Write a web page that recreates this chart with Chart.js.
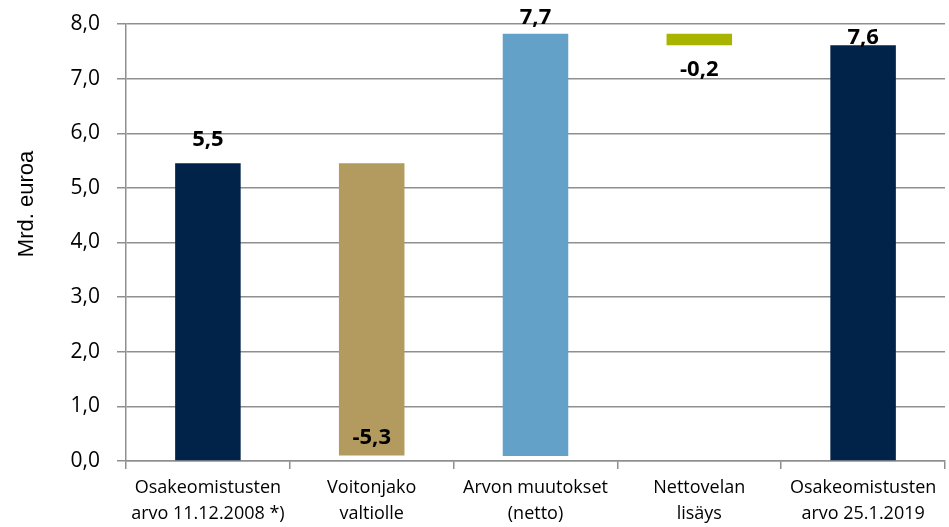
<!DOCTYPE html>
<html>
<head>
<meta charset="utf-8">
<script src="https://cdn.jsdelivr.net/npm/chart.js@4"></script>
<style>
  html, body { margin: 0; padding: 0; background: #fff; }
  #wrap { width: 949px; height: 527px; }
</style>
</head>
<body>
<div id="wrap"><canvas id="chart" width="949" height="527"></canvas></div>
<script>
// kategoriat ja arvot (mrd. euroa)
const categories = [
  ['Osakeomistusten', 'arvo 11.12.2008 *)'],
  ['Voitonjako', 'valtiolle'],
  ['Arvon muutokset', '(netto)'],
  ['Nettovelan', 'lisäys'],
  ['Osakeomistusten', 'arvo 25.1.2019']
];
const barLow = [0, 0.10, 0.09, 7.61, 0];
const barHigh = [5.45, 5.45, 7.82, 7.82, 7.61];
const valueLabels = ['5,5', '-5,3', '7,7', '-0,2', '7,6'];
const yTicks = [0, 1, 2, 3, 4, 5, 6, 7, 8];

const barColors = ['#012249', '#B39A5F', '#64A1C9', '#A9B400', '#012249'];
// where each value label sits: above the bar, inside at bottom, below the bar
const labelMode = ['above', 'insideBottom', 'above', 'below', 'above'];
const labelGap = [24, 18, 16, 24, 8];

const gridColor = '#8F8F8F';

const valueLabelPlugin = {
  id: 'valueLabels',
  afterDatasetsDraw(chart) {
    const ctx = chart.ctx;
    const meta = chart.getDatasetMeta(0);
    ctx.save();
    ctx.font = 'bold 22px "Open Sans"';
    ctx.fillStyle = '#000';
    ctx.textAlign = 'center';
    ctx.textBaseline = 'middle';
    meta.data.forEach((bar, i) => {
      const top = Math.min(bar.y, bar.base);
      const bottom = Math.max(bar.y, bar.base);
      let y;
      if (labelMode[i] === 'above') y = top - labelGap[i];
      else if (labelMode[i] === 'below') y = bottom + labelGap[i];
      else y = bottom - labelGap[i];
      ctx.fillText(valueLabels[i], bar.x, y);
    });
    ctx.restore();
  }
};

// y-akselin otsikko piirretään itse, koska se ei ole keskellä
const yTitlePlugin = {
  id: 'yTitle',
  afterDraw(chart) {
    const ctx = chart.ctx;
    ctx.save();
    ctx.translate(27, 204);
    ctx.rotate(-Math.PI / 2);
    ctx.font = '22px "Liberation Sans"';
    ctx.fillStyle = '#000';
    ctx.textAlign = 'center';
    ctx.textBaseline = 'middle';
    ctx.fillText('Mrd. euroa', 0, 0);
    ctx.restore();
  }
};

new Chart(document.getElementById('chart').getContext('2d'), {
  type: 'bar',
  data: {
    labels: categories,
    datasets: [{
      data: barLow.map((lo, i) => [lo, barHigh[i]]),
      backgroundColor: barColors,
      borderWidth: 0,
      barPercentage: 0.4,
      categoryPercentage: 1
    }]
  },
  options: {
    responsive: false,
    animation: false,
    layout: { padding: { top: 24, right: 4, left: 0, bottom: 0 } },
    plugins: {
      legend: { display: false },
      tooltip: { enabled: false }
    },
    scales: {
      x: {
        afterFit: s => { s.height = 66; s.paddingLeft = 0; s.paddingRight = 0; },
        grid: {
          offset: true,
          drawOnChartArea: false,
          drawTicks: true,
          tickLength: 8,
          color: gridColor,
          lineWidth: 1.5
        },
        border: { display: true, color: gridColor, width: 1.5 },
        ticks: {
          color: '#000',
          padding: 6,
          maxRotation: 0,
          autoSkip: false,
          font: { family: '"Open Sans"', size: 18, lineHeight: 1.45 }
        }
      },
      y: {
        min: 0,
        max: 8,
        afterFit: s => { s.width = 126; s.paddingTop = 0; s.paddingBottom = 0; },
        afterBuildTicks: s => { s.ticks = yTicks.map(v => ({ value: v })); },
        grid: {
          color: gridColor,
          lineWidth: 1.5,
          tickLength: 9
        },
        border: { display: true, color: gridColor, width: 1.5 },
        ticks: {
          color: '#000',
          padding: 17,
          font: { family: '"Open Sans"', size: 21 },
          callback: v => v.toFixed(1).replace('.', ',')
        }
      }
    }
  },
  plugins: [valueLabelPlugin, yTitlePlugin]
});
</script>
</body>
</html>
